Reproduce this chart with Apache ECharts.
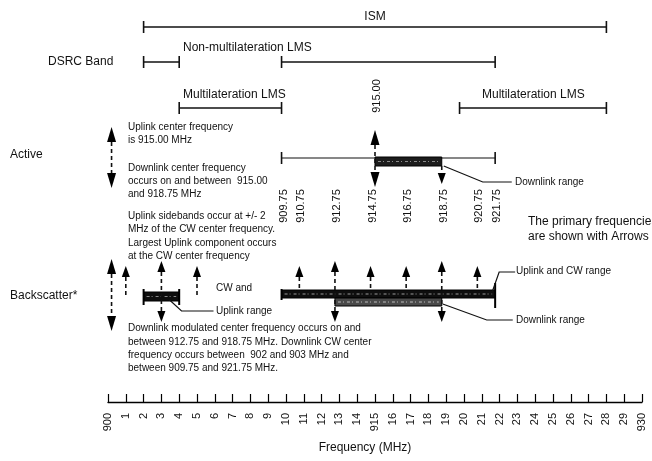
<!DOCTYPE html>
<html>
<head>
<meta charset="utf-8">
<script src="https://cdn.jsdelivr.net/npm/echarts@6/dist/echarts.min.js"></script>
<style>html,body{margin:0;padding:0;background:#fff}#c{width:652px;height:461px}</style>
</head>
<body>
<div id="c"></div>
<script>
// ---------------- DATA ----------------
const tickValues = [900,901,902,903,904,905,906,907,908,909,910,911,912,913,914,915,916,917,918,919,920,921,922,923,924,925,926,927,928,929,930];
const tickLabels = ['900','1','2','3','4','5','6','7','8','9','10','11','12','13','14','915','16','17','18','19','20','21','22','23','24','25','26','27','28','29','930'];
const bandNames = ['ISM','DSRC Band','Non-multilateration LMS','Multilateration LMS','Multilateration LMS'];
const bandFrom  = [902, 902, 909.75, 904, 919.75];
const bandTo    = [928, 904, 921.75, 909.75, 928];
const activeRange = [909.75, 921.75];
const activeDownlinkRange = [915, 918.75];
const activeUplinkArrows = [915];
const activeDownlinkArrows = [915, 918.75];
const activeRangeLabel = '915.00';
const channelLabels = [909.75, 910.75, 912.75, 914.75, 916.75, 918.75, 920.75, 921.75];
const cwUplinkRange = [902, 904];
const uplinkCwRange = [909.75, 921.75];
const bsDownlinkRange = [912.75, 918.75];
const bsUplinkArrows = [901, 903, 905, 910.75, 912.75, 914.75, 916.75, 918.75, 920.75];
const bsDownlinkArrows = [903, 912.75, 918.75];
const keyArrowFreq = 900.2;

// ---------------- LAYOUT (pixel rows, y axis = px from top) ----------------
const FONT = '"Liberation Sans", Arial, sans-serif';
const bandRows = [27, 62, 62, 108, 108];
const ROW_ACTIVE = 158;

const chart = echarts.init(document.getElementById('c'), null, {renderer: 'canvas'});

const lineItems = bandFrom.map((f, i) => ({from: f, to: bandTo[i], y: bandRows[i], tick: 6, w: 1.3}));
lineItems.push({from: activeRange[0], to: activeRange[1], y: ROW_ACTIVE, tick: 6, w: 1.2});

const barItems = [
  {r: activeDownlinkRange, t: 157, b: 166, fill: '#1c1c1c', tex: '#8a8a8a'},
  {r: uplinkCwRange, t: 290, b: 298, fill: '#0e0e0e', tex: '#9a9a9a', tickR: [283, 308], tickL: [289, 300]},
  {r: bsDownlinkRange, t: 298, b: 306, fill: '#4a4a4a', tex: '#bdbdbd'},
  {r: cwUplinkRange, t: 292, b: 301, fill: '#0e0e0e', tex: '#8a8a8a', tickR: [289, 305], tickL: [289, 305]}
];

// arrows: [freq, top, bottom, up, down, big]
const arrowItems = [];
arrowItems.push([keyArrowFreq, 127, 188, 1, 1, 1]);
arrowItems.push([keyArrowFreq, 259, 331, 1, 1, 1]);
activeUplinkArrows.forEach(f => arrowItems.push([f, 130, 187, 1, activeDownlinkArrows.includes(f) ? 1 : 0, 1]));
activeDownlinkArrows.filter(f => !activeUplinkArrows.includes(f)).forEach(f => arrowItems.push([f, 166, 184, 0, 1, 0]));
bsUplinkArrows.forEach(f => {
  const both = bsDownlinkArrows.includes(f);
  arrowItems.push([f, both ? 261 : 266, both ? 322 : (f < 906 ? 297 : 291), 1, both ? 1 : 0, 0]);
});

const callouts = [
  {f: activeDownlinkRange[1], y: 166, pts: [[2, 0], [41, 16], [70, 16]]},
  {f: 903.4, y: 299, pts: [[0, 0], [13, 12], [45, 12]]},
  {f: uplinkCwRange[1], y: 292, pts: [[-3, 0], [4, -20], [20, -20]]},
  {f: bsDownlinkRange[1], y: 304, pts: [[1, 0], [45, 16], [71, 16]]}
];

function txt(x, y, s, size, align) {
  return {type: 'text', x, y, style: {text: s, fontSize: size || 10, fontFamily: FONT, fill: '#111', align: align || 'left', verticalAlign: 'middle'}};
}

const option = {
  animation: false,
  grid: {left: 108, right: 10, top: 0, bottom: 59},
  xAxis: {
    type: 'value', min: 900, max: 930, interval: 1, position: 'bottom',
    axisLine: {onZero: false, lineStyle: {color: '#000', width: 1.4}},
    axisTick: {inside: true, length: 8, lineStyle: {color: '#000', width: 1.2}},
    splitLine: {show: false},
    axisLabel: {rotate: 90, fontSize: 11, fontFamily: FONT, color: '#111', margin: 11,
      formatter: v => { const i = tickValues.indexOf(Math.round(v)); return i >= 0 ? tickLabels[i] : ''; }}
  },
  yAxis: {type: 'value', min: 0, max: 402, inverse: true, show: false},
  graphic: [
    txt(48, 62, 'DSRC Band', 12),
    txt(183, 48, bandNames[2], 12),
    txt(183, 95, bandNames[3], 12),
    txt(482, 95, bandNames[4], 12),
    txt(10, 155, 'Active', 12),
    txt(128, 127, 'Uplink center frequency', 10),
    txt(128, 140, 'is 915.00 MHz', 10),
    txt(128, 168, 'Downlink center frequency', 10),
    txt(128, 181, 'occurs on and between  915.00', 10),
    txt(128, 194, 'and 918.75 MHz', 10),
    txt(515, 182, 'Downlink range', 10),
    txt(528, 222, 'The primary frequencies', 12),
    txt(528, 237, 'are shown with Arrows', 12),
    txt(128, 216, 'Uplink sidebands occur at +/- 2', 10),
    txt(128, 229, 'MHz of the CW center frequency.', 10),
    txt(128, 243, 'Largest Uplink component occurs', 10),
    txt(128, 256, 'at the CW center frequency', 10),
    txt(10, 296, 'Backscatter*', 12),
    txt(216, 288, 'CW and', 10),
    txt(216, 311, 'Uplink range', 10),
    txt(516, 271, 'Uplink and CW range', 10),
    txt(516, 320, 'Downlink range', 10),
    txt(128, 328, 'Downlink modulated center frequency occurs on and', 10),
    txt(128, 342, 'between 912.75 and 918.75 MHz. Downlink CW center', 10),
    txt(128, 355, 'frequency occurs between  902 and 903 MHz and', 10),
    txt(128, 368, 'between 909.75 and 921.75 MHz.', 10),
    txt(365, 448, 'Frequency (MHz)', 12, 'center')
  ],
  series: [
    { // range lines with end ticks
      type: 'custom', clip: false,
      data: lineItems.map((d, i) => [d.from, d.to, d.y, d.tick, d.w, i]),
      renderItem: (params, api) => {
        const d = lineItems[api.value(5)];
        const p1 = api.coord([d.from, d.y]), p2 = api.coord([d.to, d.y]);
        return {type: 'group', children: [
          {type: 'line', shape: {x1: p1[0], y1: p1[1], x2: p2[0], y2: p2[1]}, style: {stroke: '#111', lineWidth: d.w}},
          {type: 'line', shape: {x1: p1[0], y1: p1[1] - d.tick, x2: p1[0], y2: p1[1] + d.tick}, style: {stroke: '#111', lineWidth: 1.6}},
          {type: 'line', shape: {x1: p2[0], y1: p2[1] - d.tick, x2: p2[0], y2: p2[1] + d.tick}, style: {stroke: '#111', lineWidth: 1.6}}
        ]};
      }
    },
    { // ISM label
      type: 'custom', clip: false,
      data: [[(bandFrom[0] + bandTo[0]) / 2, bandRows[0]]],
      renderItem: (params, api) => {
        const p = api.coord([api.value(0), api.value(1)]);
        return {type: 'text', x: p[0], y: p[1] - 10, style: {text: bandNames[0], fontSize: 12, fontFamily: FONT, fill: '#111', align: 'center', verticalAlign: 'middle'}};
      }
    },
    { // bars
      type: 'custom', clip: false,
      data: barItems.map((b, i) => [b.r[0], b.r[1], i]),
      renderItem: (params, api) => {
        const b = barItems[api.value(2)];
        const p1 = api.coord([b.r[0], b.t]), p2 = api.coord([b.r[1], b.b]);
        const ch = [
          {type: 'rect', shape: {x: p1[0], y: p1[1], width: p2[0] - p1[0], height: p2[1] - p1[1]}, style: {fill: b.fill, stroke: '#000', lineWidth: 1}},
          {type: 'line', shape: {x1: p1[0] + 3, y1: (p1[1] + p2[1]) / 2, x2: p2[0] - 3, y2: (p1[1] + p2[1]) / 2}, style: {stroke: b.tex, lineWidth: 1, lineDash: [3, 2, 1, 3]}}
        ];
        if (b.tickR) ch.push({type: 'line', shape: {x1: p2[0], y1: b.tickR[0], x2: p2[0], y2: b.tickR[1]}, style: {stroke: '#000', lineWidth: 2}});
        if (b.tickL) ch.push({type: 'line', shape: {x1: p1[0], y1: b.tickL[0], x2: p1[0], y2: b.tickL[1]}, style: {stroke: '#000', lineWidth: 2}});
        return {type: 'group', children: ch};
      }
    },
    { // arrows
      type: 'custom', clip: false,
      data: arrowItems,
      renderItem: (params, api) => {
        const f = api.value(0), top = api.value(1), bot = api.value(2), up = api.value(3), dn = api.value(4), big = api.value(5);
        const pt = api.coord([f, top]), pb = api.coord([f, bot]);
        const x = pt[0], hw = big ? 4.5 : 4, hh = big ? 15 : 11;
        const ch = [];
        const y1 = up ? pt[1] + hh : pt[1], y2 = dn ? pb[1] - hh : pb[1];
        ch.push({type: 'line', shape: {x1: x, y1: y1, x2: x, y2: y2}, style: {stroke: '#111', lineWidth: 1.6, lineDash: [4, 3]}});
        if (up) ch.push({type: 'polygon', shape: {points: [[x, pt[1]], [x - hw, pt[1] + hh], [x + hw, pt[1] + hh]]}, style: {fill: '#000'}});
        if (dn) ch.push({type: 'polygon', shape: {points: [[x, pb[1]], [x - hw, pb[1] - hh], [x + hw, pb[1] - hh]]}, style: {fill: '#000'}});
        return {type: 'group', children: ch};
      }
    },
    { // callout leader lines
      type: 'custom', clip: false,
      data: callouts.map((c, i) => [c.f, c.y, i]),
      renderItem: (params, api) => {
        const c = callouts[api.value(2)];
        const p = api.coord([c.f, c.y]);
        return {type: 'polyline', shape: {points: c.pts.map(q => [p[0] + q[0], p[1] + q[1]])}, style: {stroke: '#111', lineWidth: 1.2, fill: null}};
      }
    },
    { // rotated frequency labels
      type: 'custom', clip: false,
      data: channelLabels.map(f => [f, 206, 0]).concat([[activeDownlinkRange[0], 96, 1]]),
      renderItem: (params, api) => {
        const f = api.value(0);
        const p = api.coord([f, api.value(1)]);
        const s = api.value(2) ? activeRangeLabel : f.toFixed(2);
        return {type: 'text', x: p[0] + 2, y: p[1], rotation: Math.PI / 2, style: {text: s, fontSize: 11, fontFamily: FONT, fill: '#111', align: 'center', verticalAlign: 'middle'}};
      }
    }
  ]
};
chart.setOption(option);
</script>
</body>
</html>
